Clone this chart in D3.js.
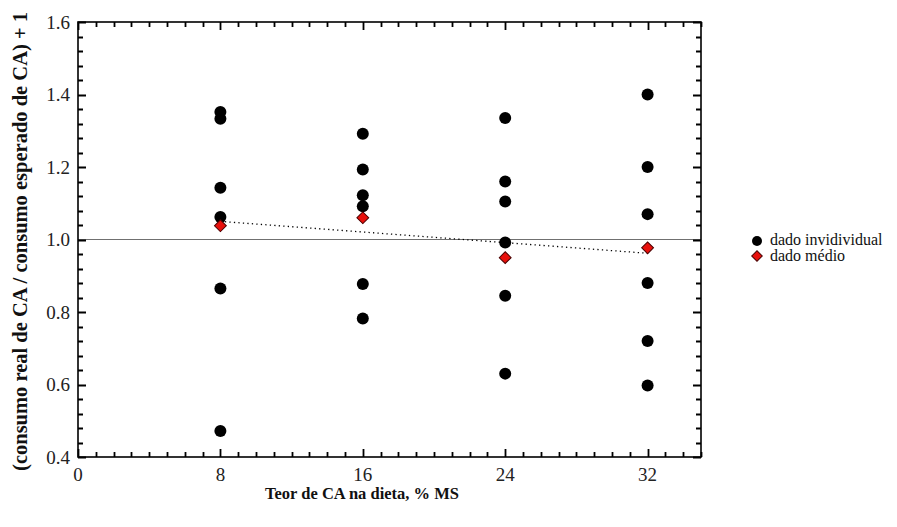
<!DOCTYPE html>
<html><head><meta charset="utf-8">
<script src="https://cdn.jsdelivr.net/npm/d3@7"></script>
<style>body{margin:0;background:#fff} svg text{font-family:"Liberation Serif","Tinos","Times New Roman","Nimbus Roman","DejaVu Serif",serif}</style>
</head><body>
<svg id="c" width="897" height="527"></svg>
<script>
// Data
const xLevels = [8, 16, 24, 32];
const individual8  = [1.352, 1.333, 1.143, 1.062, 0.865, 0.472];
const individual16 = [1.292, 1.193, 1.122, 1.092, 0.877, 0.782];
const individual24 = [1.335, 1.160, 1.105, 0.992, 0.845, 0.630];
const individual32 = [1.400, 1.200, 1.070, 0.880, 0.720, 0.597];
const meanValues   = [1.038, 1.060, 0.950, 0.977];
const trendX = [8, 32];
const trendY = [1.050, 0.962];
const xTicks = [0, 8, 16, 24, 32];
const yTicks = [0.4, 0.6, 0.8, 1.0, 1.2, 1.4, 1.6];
const legendLabels = ["dado invidividual", "dado médio"];

const svg = d3.select("#c");
const L = 78, R = 701, T = 22, B = 457;
const x = d3.scaleLinear().domain([0, 35]).range([L, R]);
const y = d3.scaleLinear().domain([0.4, 1.6]).range([B, T]);

// reference line at 1.0
svg.append("line").attr("x1", L).attr("x2", R).attr("y1", y(1)).attr("y2", y(1))
  .attr("stroke", "#707070").attr("stroke-width", 1.2);

// trend
svg.append("path").datum(trendX.map((d, i) => [d, trendY[i]]))
  .attr("d", d3.line().x(d => x(d[0])).y(d => y(d[1])))
  .attr("fill", "none").attr("stroke", "#000").attr("stroke-width", 1.3)
  .attr("stroke-dasharray", "1.3,3.2");

// individual points
const indiv = [individual8, individual16, individual24, individual32];
const pts = [];
indiv.forEach((arr, i) => arr.forEach(v => pts.push([xLevels[i], v])));
svg.append("g").selectAll("circle").data(pts).join("circle")
  .attr("cx", d => x(d[0])).attr("cy", d => y(d[1])).attr("r", 6).attr("fill", "#000");

// mean diamonds
svg.append("g").selectAll("path").data(meanValues.map((v, i) => [xLevels[i], v])).join("path")
  .attr("d", d3.symbol().type(d3.symbolSquare).size(70))
  .attr("transform", d => `translate(${x(d[0])},${y(d[1])}) rotate(45)`)
  .attr("fill", "#e8100c").attr("stroke", "#4a0000").attr("stroke-width", 1);

// ticks (inward, all four sides) as one path
const xMinor = d3.range(1, 36, 1).filter(v => v % 8 !== 0);
const yMinor = d3.range(1, 30, 1).map(i => +(0.4 + i * 0.04).toFixed(2))
  .filter(v => Math.round(v * 100) % 20 !== 0);
const p = d3.path();
xTicks.map(v => [v, 8]).concat(xMinor.map(v => [v, 5])).forEach(([v, len]) => {
  const px = Math.round(x(v)) + 0.5;
  p.moveTo(px, B); p.lineTo(px, B - len);
  p.moveTo(px, T); p.lineTo(px, T + len);
});
yTicks.map(v => [v, 8]).concat(yMinor.map(v => [v, 5])).forEach(([v, len]) => {
  const py = Math.round(y(v)) + 0.5;
  p.moveTo(L, py); p.lineTo(L + len, py);
  p.moveTo(R, py); p.lineTo(R - len, py);
});
svg.append("path").attr("d", p.toString()).attr("fill", "none")
  .style("stroke", "#000").style("stroke-width", "1.8px");

// tick labels
svg.append("g").selectAll("text").data(xTicks).join("text")
  .attr("x", d => x(d)).attr("y", 481).attr("text-anchor", "middle")
  .attr("font-size", 19).attr("fill", "#222").text(d => d);
svg.append("g").selectAll("text").data(yTicks).join("text")
  .attr("x", 70).attr("y", d => y(d) + 6.5).attr("text-anchor", "end")
  .attr("font-size", 19).attr("fill", "#222").text(d => d3.format(".1f")(d));

// frame
svg.append("rect").attr("x", L).attr("y", T).attr("width", R - L).attr("height", B - T)
  .attr("fill", "none").attr("stroke", "#000").attr("stroke-width", 1.6);

// axis titles
svg.append("text").attr("x", 362).attr("y", 499).attr("text-anchor", "middle")
  .attr("font-weight", "bold").attr("font-size", 16.5).attr("fill", "#111")
  .text("Teor de CA na dieta, % MS");
svg.append("text").attr("transform", `translate(27,${(T + B) / 2 + 2}) rotate(-90)`)
  .attr("text-anchor", "middle").attr("font-weight", "bold").attr("fill", "#111")
  .attr("font-size", 20.5).text("(consumo real de CA / consumo esperado de CA) + 1");

// legend
const lg = svg.append("g").attr("transform", "translate(757,241)");
lg.append("circle").attr("cx", 0).attr("cy", 0).attr("r", 5).attr("fill", "#000");
lg.append("path").attr("d", d3.symbol().type(d3.symbolSquare).size(56))
  .attr("transform", "translate(0,15) rotate(45)")
  .attr("fill", "#e8100c").attr("stroke", "#4a0000").attr("stroke-width", 1);
lg.selectAll("text").data(legendLabels).join("text")
  .attr("x", 13).attr("y", (d, i) => i * 15.5 + 4)
  .attr("font-size", 16).attr("fill", "#111").text(d => d);
</script>
</body></html>
